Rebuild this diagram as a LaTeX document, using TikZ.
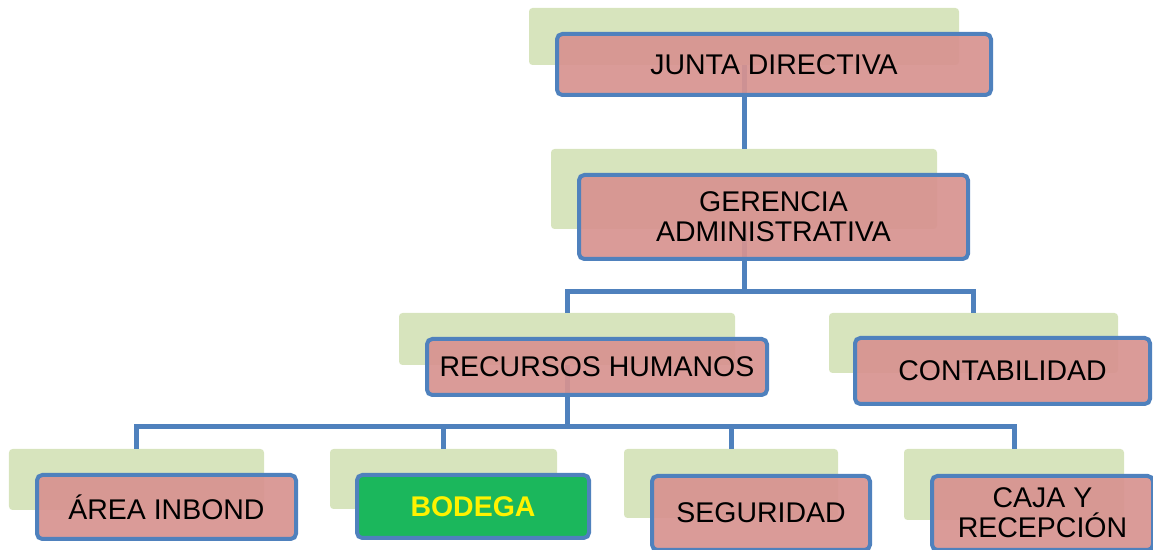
\documentclass[tikz,border=0pt]{standalone}
\usepackage{fontspec}
\setmainfont{Liberation Sans}
\usepackage{tikz}
\usetikzlibrary{calc}

\definecolor{lineblue}{RGB}{79,129,189}
\definecolor{boxred}{RGB}{215,147,144}
\definecolor{backgreen}{RGB}{215,228,189}
\definecolor{bodgreen}{RGB}{27,183,92}

\tikzset{
  back/.style={fill=backgreen, rounded corners=2pt, inner sep=0pt},
  box/.style={draw=lineblue, line width=0.08cm, fill=boxred, fill opacity=0.93, text opacity=1,
    rounded corners=3pt, align=center, inner sep=0pt, font=\fontsize{16.2}{17}\selectfont},
  link/.style={draw=lineblue, line width=0.1cm}
}

\begin{document}
\begin{tikzpicture}

    \useasboundingbox (0,0) rectangle (23.06,11);

    %green backs
    \foreach \n/\x/\y/\w/\h in {jdbg/14.88/10.27/8.6/1.14, gabg/14.88/7.22/7.72/1.6,
        rhbg/11.34/4.22/6.72/1.04, cobg/19.47/4.14/5.78/1.2,
        aibg/2.73/1.41/5.1/1.22, bobg/8.87/1.42/4.54/1.2,
        sebg/14.62/1.33/4.28/1.38, cjbg/20.28/1.31/4.4/1.42}
    \node[back, minimum width=\w cm, minimum height=\h cm] (\n) at (\x,\y) {};

    %bus coordinates
    \coordinate (busA) at (0,5.16);
    \coordinate (busB) at (0,2.46);

    %links
    \draw[link] (jdbg.south) -- (gabg.north);
    \draw[link] (gabg.south) -- (gabg.south |- busA) -| (rhbg.north);
    \draw[link] (gabg.south |- busA) -| (cobg.north);
    \draw[link] (rhbg.south) -- (rhbg.south |- busB);
    \foreach \n in {aibg,bobg,sebg,cjbg}
    \draw[link] (rhbg.south |- busB) -| (\n.north);

    %boxes
    \node[box, minimum width=8.68cm, minimum height=1.22cm] (jd) at (15.48,9.71) {JUNTA DIRECTIVA};
    \node[box, minimum width=7.78cm, minimum height=1.68cm] (ga) at (15.47,6.66) {GERENCIA\\ADMINISTRATIVA};
    \node[box, minimum width=6.8cm, minimum height=1.12cm] (rh) at (11.94,3.66) {RECURSOS HUMANOS};
    \node[box, minimum width=5.9cm, minimum height=1.32cm] (co) at (20.05,3.58) {CONTABILIDAD};
    \node[box, minimum width=5.18cm, minimum height=1.28cm] (ai) at (3.33,0.86) {ÁREA INBOND};
    \node[box, fill=bodgreen, fill opacity=1, text=yellow, minimum width=4.64cm, minimum height=1.26cm] (bo) at (9.46,0.87) {\bfseries BODEGA};
    \node[box, minimum width=4.36cm, minimum height=1.48cm] (se) at (15.22,0.74) {SEGURIDAD};
    \node[box, minimum width=4.42cm, minimum height=1.48cm] (cj) at (20.85,0.74) {CAJA Y\\RECEPCIÓN};

\end{tikzpicture}
\end{document}
